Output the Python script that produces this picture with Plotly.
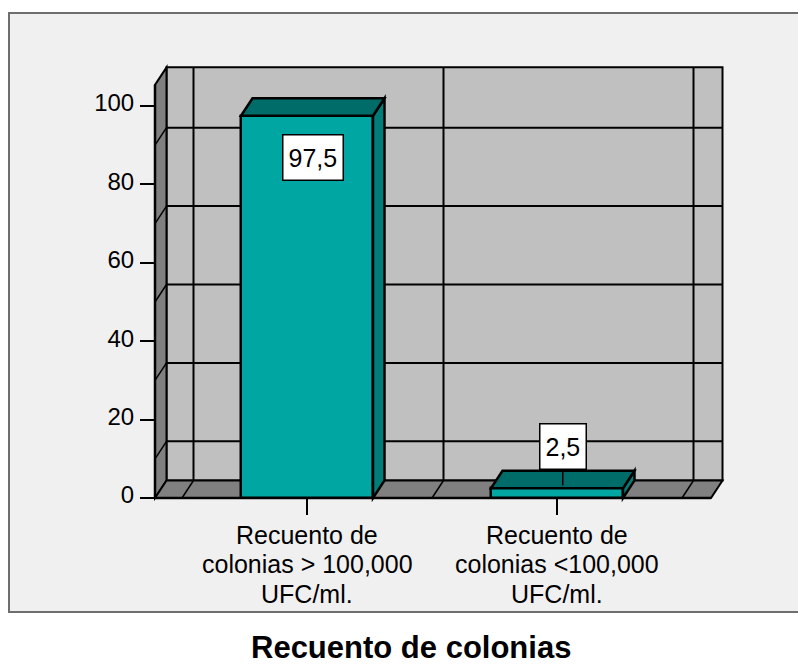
import plotly.graph_objects as go

# ---- data -------------------------------------------------------------
category_lines = [
    ["Recuento de", "colonias > 100,000", "UFC/ml."],
    ["Recuento de", "colonias <100,000", "UFC/ml."],
]
percentages = [97.5, 2.5]
y_ticks = [0, 20, 40, 60, 80, 100]
grid_levels = [10, 30, 50, 70, 90]
title_text = "Recuento de colonias"

# ---- layout constants ---------------------------------------------------
W, H = 798, 666
PX_PER_X = 250.0          # pixels per category step
PX_PER_Y = 3.92           # pixels per percentage point
X0_PX, Y0_PX = 307.0, 498.0   # pixel position of (first category, 0 %)

xmin = -X0_PX / PX_PER_X
xmax = xmin + W / PX_PER_X
ymax = Y0_PX / PX_PER_Y
ymin = ymax - H / PX_PER_Y

DX = 11.5 / PX_PER_X      # depth offset of the 3D box
DY = 17.5 / PX_PER_Y
XL, XR = -0.608, 1.616    # front left / right edge of the floor
TOP = 105.4               # height of the walls
BAR_W = 0.528
bounds = [-0.5, 0.5, 1.5]

FRONT = "#00A6A1"
TOPC = "#006C69"
SIDE = "#007D79"
WALL = "#C0C0C0"
DARK = "#808080"
FONT = "Liberation Sans, Arial, sans-serif"

xs = list(range(len(percentages)))


def poly(pts):
    return "M " + " L ".join(f"{x},{y}" for x, y in pts) + " Z"


shapes = []
# outer frame
shapes.append(dict(type="rect", xref="paper", yref="paper",
                   x0=9 / W, x1=1.02, y0=(H - 612) / H, y1=(H - 13) / H,
                   fillcolor="#F0F0F0", line=dict(color="#6E6E6E", width=2),
                   layer="below"))
# back wall
shapes.append(dict(type="rect", xref="x", yref="y",
                   x0=XL + DX, x1=XR + DX, y0=DY, y1=TOP + DY,
                   fillcolor=WALL, line=dict(color="black", width=2), layer="below"))
# left wall
shapes.append(dict(type="path", xref="x", yref="y",
                   path=poly([(XL, 0), (XL, TOP), (XL + DX, TOP + DY), (XL + DX, DY)]),
                   fillcolor=DARK, line=dict(color="black", width=2), layer="below"))
# floor
shapes.append(dict(type="path", xref="x", yref="y",
                   path=poly([(XL, 0), (XR, 0), (XR + DX, DY), (XL + DX, DY)]),
                   fillcolor=DARK, line=dict(color="black", width=2), layer="below"))
# horizontal grid on back and left walls
for g in grid_levels:
    shapes.append(dict(type="line", xref="x", yref="y", x0=XL + DX, x1=XR + DX,
                       y0=g + DY, y1=g + DY, line=dict(color="black", width=2),
                       layer="below"))
    shapes.append(dict(type="line", xref="x", yref="y", x0=XL, x1=XL + DX,
                       y0=g, y1=g + DY, line=dict(color="black", width=1.5),
                       layer="below"))
# category boundaries on back wall and floor
for b in bounds:
    shapes.append(dict(type="line", xref="x", yref="y", x0=b + DX, x1=b + DX,
                       y0=DY, y1=TOP + DY, line=dict(color="black", width=2),
                       layer="below"))
    shapes.append(dict(type="line", xref="x", yref="y", x0=b, x1=b + DX,
                       y0=0, y1=DY, line=dict(color="black", width=1.5),
                       layer="below"))
# front edges (axis lines)
shapes.append(dict(type="line", xref="x", yref="y", x0=XL, x1=XL, y0=0, y1=TOP,
                   line=dict(color="black", width=2.5), layer="below"))
shapes.append(dict(type="line", xref="x", yref="y", x0=XL, x1=XR, y0=0, y1=0,
                   line=dict(color="black", width=2.5), layer="below"))

# 3D faces of the bars
for x, v in zip(xs, percentages):
    a, b = x - BAR_W / 2, x + BAR_W / 2
    shapes.append(dict(type="path", xref="x", yref="y",
                       path=poly([(b, 0), (b, v), (b + DX, v + DY), (b + DX, DY)]),
                       fillcolor=SIDE, line=dict(color="black", width=2.5),
                       layer="above"))
    shapes.append(dict(type="path", xref="x", yref="y",
                       path=poly([(a, v), (b, v), (b + DX, v + DY), (a + DX, v + DY)]),
                       fillcolor=TOPC, line=dict(color="black", width=2.5),
                       layer="above"))

fig = go.Figure()
fig.add_trace(go.Bar(
    x=xs, y=percentages, width=BAR_W,
    marker=dict(color=FRONT, line=dict(color="black", width=2.5)),
    hoverinfo="skip", showlegend=False,
))

annotations = []
# value labels
for x, v in zip(xs, percentages):
    txt = f"{v:.1f}".replace(".", ",")
    common = dict(text=txt, xref="x", yref="y", showarrow=False,
                  font=dict(family=FONT, size=25, color="black"),
                  bgcolor="white", bordercolor="black", borderwidth=1.5,
                  borderpad=5, height=34, valign="middle", xanchor="center")
    if v > 20:
        annotations.append(dict(x=x + DX / 2, y=v + DY / 2, yanchor="top",
                                yshift=-27, **common))
    else:
        annotations.append(dict(x=x + DX / 2, y=v + DY, yanchor="bottom",
                                yshift=1, **common))
        shapes.append(dict(type="line", xref="x", yref="y", x0=x + DX / 2,
                           x1=x + DX / 2, y0=v + DY, y1=v + 0.15 * DY,
                           line=dict(color="black", width=1.5), layer="above"))

# category labels, one annotation per line
LINE0_PX, LINE_STEP = 534.5, 29.5
for x, lines in zip(xs, category_lines):
    for k, line in enumerate(lines):
        cy = LINE0_PX + k * LINE_STEP
        annotations.append(dict(text=line, x=x, xref="x", y=(H - cy) / H,
                                yref="paper", showarrow=False,
                                xanchor="center", yanchor="middle",
                                font=dict(family=FONT, size=25, color="black")))

# chart title
annotations.append(dict(text=f"<b>{title_text}</b>", x=411 / W, xref="paper",
                        y=(H - 647) / H, yref="paper", showarrow=False,
                        xanchor="center", yanchor="middle",
                        font=dict(family=FONT, size=31, color="black")))

fig.update_layout(
    width=W, height=H,
    margin=dict(l=0, r=0, t=0, b=0),
    paper_bgcolor="white", plot_bgcolor="rgba(0,0,0,0)",
    shapes=shapes, annotations=annotations,
    xaxis=dict(range=[xmin, xmax], tickvals=xs, showticklabels=False,
               ticks="outside", ticklen=16, tickwidth=2, tickcolor="black",
               showgrid=False, zeroline=False, showline=False,
               anchor="free", position=(H - Y0_PX) / H),
    yaxis=dict(range=[ymin, ymax], tickvals=y_ticks,
               ticktext=[str(t) for t in y_ticks],
               ticks="outside", ticklen=15, tickwidth=2, tickcolor="black",
               tickfont=dict(family=FONT, size=24, color="black"),
               ticklabelstandoff=1, ticklabelshift=-3,
               showgrid=False, zeroline=False, showline=False,
               anchor="free", position=155 / W),
    bargap=0,
)

fig.write_html("out.html")
